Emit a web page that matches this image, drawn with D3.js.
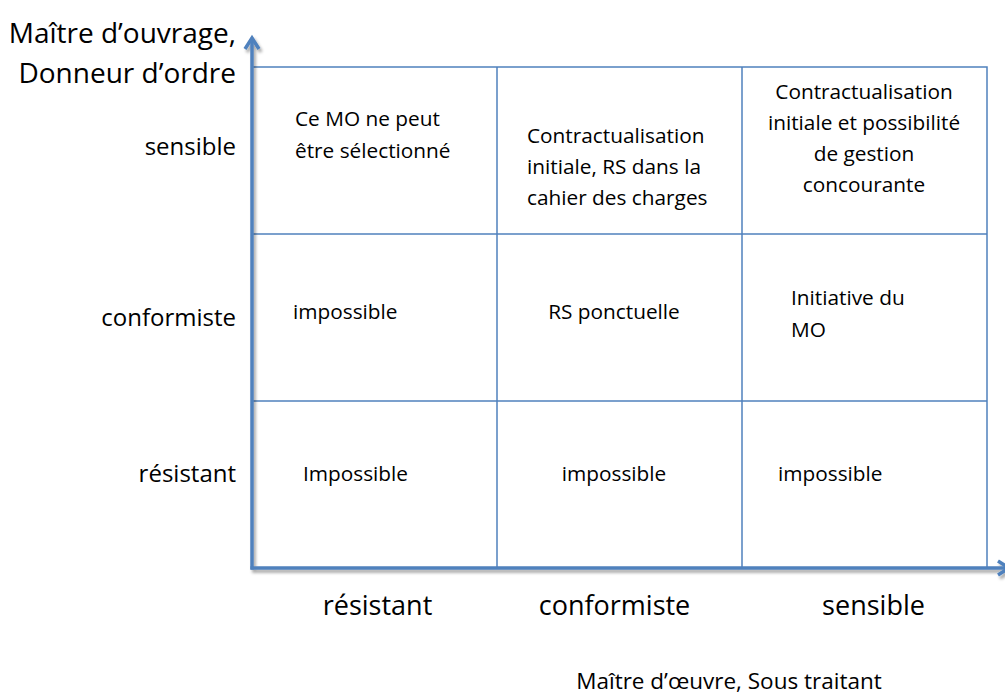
<!DOCTYPE html>
<html><head><meta charset="utf-8">
<script src="https://cdn.jsdelivr.net/npm/d3@7"></script>
<style>body{margin:0;background:#fff}svg{display:block}text{font-family:"Open Sans",sans-serif;fill:#000}</style>
</head><body>
<svg id="c" width="1005" height="695"></svg>
<script>
// Data
const xCategories = ["résistant", "conformiste", "sensible"];
const yCategories = ["sensible", "conformiste", "résistant"]; // top to bottom
const xTitle = "Maître d’œuvre, Sous traitant";
const yTitle = ["Maître d’ouvrage,", "Donneur d’ordre"];
// cell texts: row (y category) x column (x category)
const rowSensible = [["Ce MO ne peut", "être sélectionné"], ["Contractualisation", "initiale, RS dans la", "cahier des charges"], ["Contractualisation", "initiale et possibilité", "de gestion", "concourante"]];
const rowConformiste = [["impossible"], ["RS ponctuelle"], ["Initiative du", "MO"]];
const rowResistant = [["Impossible"], ["impossible"], ["impossible"]];
const cellRows = [rowSensible, rowConformiste, rowResistant];

const svg = d3.select("#c");
const x = d3.scaleBand().domain(xCategories).range([252, 987]);
const y = d3.scaleBand().domain(yCategories).range([67, 568]);
const blue = "#4f81bd";

const defs = svg.append("defs");
const f = defs.append("filter").attr("id","sh").attr("x","-20%").attr("y","-20%").attr("width","140%").attr("height","140%");
f.append("feDropShadow").attr("dx",2).attr("dy",3).attr("stdDeviation",1.5).attr("flood-color","#000").attr("flood-opacity",0.35);

// grid
const g = svg.append("g");
g.append("rect").attr("x", x.range()[0]).attr("y", y.range()[0])
  .attr("width", x.range()[1]-x.range()[0]).attr("height", y.range()[1]-y.range()[0])
  .attr("fill","none").attr("stroke",blue).attr("stroke-width",1.5);
xCategories.slice(1).forEach(c => g.append("line").attr("x1",x(c)).attr("x2",x(c)).attr("y1",y.range()[0]).attr("y2",y.range()[1]).attr("stroke",blue).attr("stroke-width",1.5));
yCategories.slice(1).forEach(c => g.append("line").attr("y1",y(c)).attr("y2",y(c)).attr("x1",x.range()[0]).attr("x2",x.range()[1]).attr("stroke",blue).attr("stroke-width",1.5));

// axes with arrows
const ax = svg.append("g").attr("filter","url(#sh)");
const x0 = x.range()[0], yb = y.range()[1];
ax.append("line").attr("x1",x0).attr("x2",x0).attr("y1",yb+1.5).attr("y2",40).attr("stroke",blue).attr("stroke-width",3.5);
ax.append("path").attr("d",`M${x0-7},${49} L${x0},${38} L${x0+7},${49}`).attr("fill","none").attr("stroke",blue).attr("stroke-width",3.5).attr("stroke-linejoin","miter");
ax.append("line").attr("x1",x0-1.5).attr("x2",1010).attr("y1",yb).attr("y2",yb).attr("stroke",blue).attr("stroke-width",3.5);
ax.append("path").attr("d",`M${998},${yb-7} L${1009},${yb} L${998},${yb+7}`).attr("fill","none").attr("stroke",blue).attr("stroke-width",3.5);

// cell texts layout: [anchor, x offset from cell left, first baseline offset from cell top, line height]
const layout = [
  [["start",43,59,32],["start",30,76,31],["middle",122,32,31]],
  [["start",41,85,32],["middle",117,85,32],["start",49,71,32]],
  [["start",51,80,32],["middle",117,80,32],["start",36,80,32]]
];
cellRows.forEach((row, ri) => {
  row.forEach((lines, ci) => {
    const L = layout[ri][ci];
    const t = svg.append("text").attr("font-size",20.8).attr("text-anchor",L[0]);
    lines.forEach((s, k) => t.append("tspan")
      .attr("x", x(xCategories[ci]) + L[1])
      .attr("y", y(yCategories[ri]) + L[2] + k*L[3]).text(s));
  });
});

// y tick labels
const ylab = [88, 92, 81];
yCategories.forEach((c,i) => svg.append("text").attr("x",236).attr("y",y(c)+ylab[i])
  .attr("text-anchor","end").attr("font-size",24).text(c));
// x tick labels
xCategories.forEach((c,i) => svg.append("text").attr("x",x(c)+x.bandwidth()/2+[3,-5,9][i]).attr("y",615)
  .attr("text-anchor","middle").attr("font-size",27).text(c));

// titles
yTitle.forEach((s,i) => svg.append("text").attr("x",236).attr("y",43+i*40).attr("text-anchor","end").attr("font-size",28).text(s));
svg.append("text").attr("x",729).attr("y",689).attr("text-anchor","middle").attr("font-size",22.5).text(xTitle);
</script>
</body></html>
